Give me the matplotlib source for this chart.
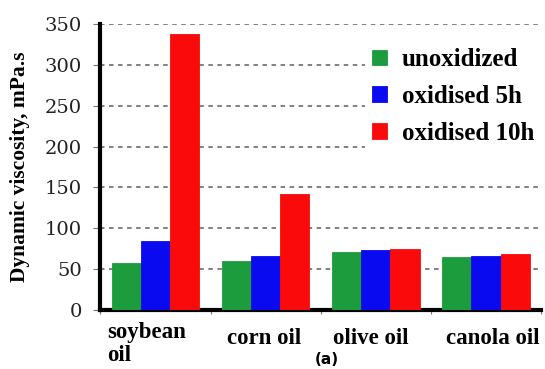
import numpy as np
import matplotlib
matplotlib.use("Agg")
from matplotlib import pyplot as plt

plt.rcParams['font.family'] = ['Liberation Serif', 'DejaVu Serif']

oils = ['soybean\noil', 'corn oil', 'olive oil', 'canola oil']
unoxidized = [58, 60, 71, 65]
oxidised_5h = [85, 66, 73, 66]
oxidised_10h = [338, 142, 74, 69]

series = [('unoxidized', unoxidized, '#1c9c3c'),
          ('oxidised 5h', oxidised_5h, '#0a0af0'),
          ('oxidised 10h', oxidised_10h, '#fa0a0a')]

fig = plt.figure(figsize=(5.45, 3.69), dpi=100)
ax = fig.add_axes([0.184, 0.16, 0.809, 0.775])

x = np.arange(len(oils))
w = 0.265
for i, (name, vals, col) in enumerate(series):
    ax.bar(x + (i - 1) * w, vals, w, color=col, label=name, zorder=3,
           edgecolor=col, linewidth=0.6)

ax.set_xlim(-0.5, len(oils) - 0.5)
ax.set_ylim(0, 350)
ax.set_yticks(np.arange(0, 351, 50))
ax.tick_params(axis='y', length=5, width=0.8, color='#777777', pad=8)
for lab in ax.get_yticklabels():
    lab.set_family('DejaVu Serif')
    lab.set_fontsize(14)
    lab.set_color('#222222')
ax.yaxis.grid(True, linestyle=(0, (2.5, 2.5)), color='#777777', linewidth=1.3, zorder=0)

# boundary ticks on x, names written between them
ax.set_xticks(np.arange(-0.5, len(oils)))
ax.set_xticklabels([])
ax.tick_params(axis='x', length=3, width=0.8, color='#777777')
nudge = [-0.08, -0.01, -0.05, 0.065]
ypos = [-0.118, -0.1, -0.1, -0.1]
for xi, name, dx, yy in zip(x, oils, nudge, ypos):
    ax.text(xi + dx, yy, name, transform=ax.get_xaxis_transform(),
            ha='center', va='center', multialignment='left',
            fontsize=16.5, fontweight='bold', linespacing=1.12)

for s in ['top', 'right']:
    ax.spines[s].set_visible(False)
ax.spines['left'].set_linewidth(3)
ax.spines['bottom'].set_linewidth(3)

ax.set_ylabel('Dynamic viscosity, mPa.s', fontsize=15.5, fontweight='bold')
ax.yaxis.set_label_coords(-0.159, 0.5)

leg = ax.legend(loc='upper right', bbox_to_anchor=(1.03, 0.985),
                prop={'weight': 'bold', 'size': 18}, handlelength=0.6,
                handleheight=0.6, labelspacing=0.55, handletextpad=0.6,
                borderpad=0.3, frameon=True, facecolor='white',
                edgecolor='none', framealpha=1)

fig.text(0.6, 0.025, '(a)', fontsize=11, fontweight='bold', family='DejaVu Sans',
         ha='center', va='center')

fig.savefig('out.png', dpi=100)
